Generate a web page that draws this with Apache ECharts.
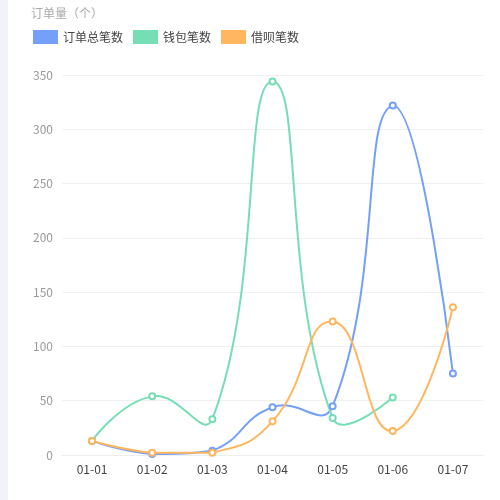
<!DOCTYPE html>
<html>
<head>
<meta charset="utf-8">
<script src="https://cdn.jsdelivr.net/npm/echarts@6/dist/echarts.min.js"></script>
<style>
html,body{margin:0;padding:0;background:#fff;}
#strip{position:absolute;left:0;top:0;width:8px;height:500px;background:#f2f3f8;}
#chart{position:absolute;left:0;top:0;width:500px;height:500px;}
</style>
</head>
<body>
<div id="strip"></div>
<div id="chart"></div>
<script>
const categories = ['01-01','01-02','01-03','01-04','01-05','01-06','01-07'];
const seriesNames = ['订单总笔数','钱包笔数','借呗笔数'];
const totalOrders = [13, 1, 4, 44, 45, 322, 75];
const walletOrders = [13, 54, 33, 344, 34, 53];
const jiebeiOrders = [13, 2, 2, 31, 123, 22, 136];
const colors = ['#74A0F9','#75DEB4','#FFB65F'];
const allData = [totalOrders, walletOrders, jiebeiOrders];

const chart = echarts.init(document.getElementById('chart'));
const font = '"Noto Sans CJK SC", "Noto Sans", sans-serif';

// Classic (unclamped) smoothing of a polyline through projected points
function smoothPath(pts, smooth){
  let minX=Infinity,minY=Infinity,maxX=-Infinity,maxY=-Infinity;
  pts.forEach(p=>{minX=Math.min(minX,p[0]);minY=Math.min(minY,p[1]);maxX=Math.max(maxX,p[0]);maxY=Math.max(maxY,p[1]);});
  const clamp=(c)=>[Math.max(minX,Math.min(maxX,c[0])),Math.max(minY,Math.min(maxY,c[1]))];
  let d='M'+pts[0][0]+' '+pts[0][1];
  let cp0=pts[0].slice();
  for(let k=1;k<pts.length;k++){
    const p=pts[k], prev=pts[k-1], next=pts[k+1];
    let cp1, ratio=0.5, v=[0,0];
    if(!next){ cp1=p.slice(); }
    else{
      v=[(next[0]-prev[0]),(next[1]-prev[1])];
      const l0=Math.hypot(p[0]-prev[0],p[1]-prev[1]);
      const l1=Math.hypot(next[0]-p[0],next[1]-p[1]);
      ratio=l1/(l0+l1);
      cp1=[p[0]-v[0]*smooth*(1-ratio),p[1]-v[1]*smooth*(1-ratio)];
    }
    const a=clamp(cp0), b=clamp(cp1);
    d+=' C'+a[0]+' '+a[1]+' '+b[0]+' '+b[1]+' '+p[0]+' '+p[1];
    cp0=[p[0]+v[0]*smooth*ratio,p[1]+v[1]*smooth*ratio];
  }
  return d;
}

function curveSeries(idx){
  const arr=allData[idx];
  return {
    type:'custom', silent:true, z:1,
    data:[[0,0]],
    encode:{x:0,y:1},
    renderItem:function(params, api){
      const pts=arr.map((v,i)=>api.coord([i,v]));
      return {type:'path', shape:{pathData:smoothPath(pts,0.5)},
        style:{stroke:colors[idx], fill:'none', lineWidth:2}};
    }
  };
}
function pointSeries(idx){
  return {
    name: seriesNames[idx], type:'line', data: allData[idx], z:3,
    symbol:'emptyCircle', symbolSize:6,
    itemStyle:{color:colors[idx], borderWidth:1},
    lineStyle:{width:0, opacity:0}
  };
}

chart.setOption({
  color: colors,
  textStyle: {fontFamily: font},
  legend: {
    left: 28, top: 25, itemWidth: 25, itemHeight: 14, itemGap: 10,
    textStyle: {color: '#444', fontSize: 12, fontFamily: font},
    icon: 'rect',
    data: seriesNames
  },
  grid: {left: 62, right: 17, top: 75, bottom: 45},
  xAxis: {
    type: 'category', data: categories,
    axisLine: {lineStyle: {color: '#eeeeee'}},
    axisTick: {show: false},
    axisLabel: {color: '#444', fontSize: 12, margin: 8, fontFamily: font}
  },
  yAxis: {
    type: 'value', min: 0, max: 350, interval: 50,
    name: '订单量（个）', nameGap: 56,
    nameTextStyle: {color: '#aaa', fontSize: 12, fontFamily: font, padding:[0,0,0,10]},
    axisLine: {show: false}, axisTick: {show: false},
    axisLabel: {color: '#999', fontSize: 12, margin: 9, fontFamily: font},
    splitLine: {lineStyle: {color: '#f0f0f0'}}
  },
  series: [
    curveSeries(0), curveSeries(1), curveSeries(2),
    pointSeries(0), pointSeries(1), pointSeries(2)
  ]
});
</script>
</body>
</html>
